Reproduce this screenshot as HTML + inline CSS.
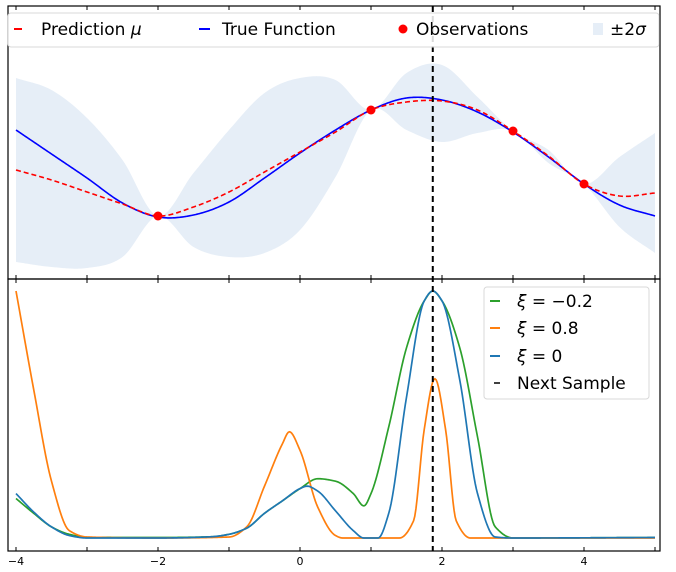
<!DOCTYPE html>
<html><head><meta charset="utf-8">
<style>
html,body{margin:0;padding:0;background:#fff;overflow:hidden;width:676px;height:572px;}
svg{display:block;font-family:"DejaVu Sans","Liberation Sans",sans-serif;}
</style></head>
<body>
<svg id="chart" width="676" height="572" viewBox="0 0 676 572"></svg>
<script>
// ---------- data ----------
const topX = [-4,-3.5,-3,-2.5,-2,-1.5,-1,-0.5,0,0.5,1,1.5,2,2.5,3,3.5,4,4.5,5];
const trueFn = [1.0,0.52,0.04,-0.46,-0.74,-0.7,-0.44,0.04,0.54,1.0,1.4,1.64,1.6,1.36,0.96,0.46,-0.08,-0.5,-0.72];
const predMean = [0.2,0,-0.24,-0.48,-0.72,-0.54,-0.24,0.16,0.56,0.96,1.4,1.56,1.58,1.4,0.98,0.48,-0.08,-0.32,-0.26];
const bandUpper = [2.04,1.8,1.24,0.4,-0.72,0.14,1.0,1.74,2.04,2.0,1.4,2.14,2.3,1.66,0.98,0.6,-0.08,0.46,0.94];
const bandLower = [-1.64,-1.74,-1.76,-1.54,-0.72,-1.34,-1.54,-1.46,-1.0,0.06,1.4,1.0,0.76,0.94,0.98,0.34,-0.08,-0.94,-1.46];
const obsX = [-2,1,3,4];
const obsY = [-0.72,1.4,0.98,-0.08];
const nextSample = 1.87;

const greenX = [-4,-3.75,-3.5,-3.25,-3,-2,-1.25,-1,-0.75,-0.5,-0.25,0,0.25,0.5,0.75,0.9,1,1.25,1.5,1.75,1.87,2,2.25,2.5,2.75,3,5];
const greenY = [0.16,0.10,0.045,0.015,0.003,0.002,0.005,0.015,0.04,0.10,0.15,0.2,0.24,0.23,0.18,0.13,0.18,0.45,0.77,0.96,1.0,0.96,0.77,0.41,0.045,0,0.002];
const blueX = [-4,-3.75,-3.5,-3.25,-3,-2,-1.25,-1,-0.75,-0.5,-0.25,0,0.1,0.25,0.5,0.75,0.9,1.1,1.25,1.5,1.75,1.87,2,2.25,2.5,2.75,3,5];
const blueY = [0.18,0.105,0.045,0.01,0,0,0.005,0.015,0.04,0.1,0.15,0.2,0.21,0.19,0.11,0.03,0,0,0.1,0.57,0.96,1.0,0.96,0.64,0.18,0.004,0,0.002];
const orangeX = [-4,-3.75,-3.5,-3.25,-3,-2,-1,-0.75,-0.5,-0.25,-0.15,0,0.25,0.5,0.6,1.4,1.6,1.75,1.9,2.05,2.2,2.4,5];
const orangeY = [1.0,0.6,0.23,0.03,0.004,0,0.004,0.045,0.21,0.38,0.43,0.355,0.125,0.01,0,0,0.07,0.44,0.645,0.44,0.07,0,0];
const xTicks = [-4,-2,0,2,4];
const xTickLabels = ["\u22124","\u22122","0","2","4"];

// ---------- scales ----------
const L=8,R=660,T1=6,B1=279,T2=279,B2=551;
const xs = x => 16 + (x+4)*71;
const ys1 = v => 180 - v*50;
const ys2 = v => 538 - v*247;
const svg = document.getElementById('chart');
const NS='http://www.w3.org/2000/svg';
function mk(tag, attrs, parent){const e=document.createElementNS(NS,tag);for(const k in attrs)e.setAttribute(k,attrs[k]);(parent||svg).appendChild(e);return e;}
// cubic Hermite interpolation; monotone (Fritsch-Carlson) or Catmull-Rom tangents
function interp(xa, ya, mono){
  const n=xa.length, d=[], m=new Array(n);
  for(let i=0;i<n-1;i++) d.push((ya[i+1]-ya[i])/(xa[i+1]-xa[i]));
  m[0]=d[0]; m[n-1]=d[n-2];
  for(let i=1;i<n-1;i++){
    if(!mono){ m[i]=(ya[i+1]-ya[i-1])/(xa[i+1]-xa[i-1]); continue; }
    if(d[i-1]*d[i]<=0) m[i]=0;
    else { const w1=2*(xa[i+1]-xa[i])+(xa[i]-xa[i-1]), w2=(xa[i+1]-xa[i])+2*(xa[i]-xa[i-1]); m[i]=(w1+w2)/(w1/d[i-1]+w2/d[i]); }
  }
  const out=[];
  for(let i=0;i<n-1;i++){
    const h=xa[i+1]-xa[i], steps=Math.max(4,Math.ceil(h*60));
    for(let s=(i==0?0:1);s<=steps;s++){
      const t=s/steps, t2=t*t, t3=t2*t;
      const y=(2*t3-3*t2+1)*ya[i]+(t3-2*t2+t)*h*m[i]+(-2*t3+3*t2)*ya[i+1]+(t3-t2)*h*m[i+1];
      out.push([xa[i]+t*h, y]);
    }
  }
  return out;
}
function pathFrom(p, sy){return p.map((q,i)=>(i?'L':'M')+xs(q[0]).toFixed(2)+','+sy(q[1]).toFixed(2)).join(' ');}

// ---------- top panel ----------
const topG = mk('g',{});
{
  const u=interp(topX,bandUpper,false), l=interp(topX,bandLower,false).reverse();
  const band=mk('path',{d:pathFrom(u,ys1)+' '+pathFrom(l,ys1).replace('M','L')+' Z',fill:'#e6eef7',stroke:'none'},topG);
  
  
  const tl=mk('path',{d:pathFrom(interp(topX,trueFn,false),ys1),fill:'none',stroke:'#0000ff','stroke-width':1.6},topG);
  
  
  const ml=mk('path',{d:pathFrom(interp(topX,predMean,false),ys1),fill:'none',stroke:'#ff0000','stroke-width':1.6,'stroke-dasharray':'5,3'},topG);
  
  
  obsX.forEach((x,i)=>{
    const c=mk('circle',{cx:xs(x),cy:ys1(obsY[i]),r:4.5,fill:'#ff0000'},topG);
    
    
  });
}
// ---------- bottom panel ----------
const botG = mk('g',{});
[[greenX,greenY,'#2ca02c','ei-xi-neg-0-2'],[orangeX,orangeY,'#ff7f0e','ei-xi-0-8'],[blueX,blueY,'#1f77b4','ei-xi-0']].forEach(s=>{
  const e=mk('path',{d:pathFrom(interp(s[0],s[1],true),ys2),fill:'none',stroke:s[2],'stroke-width':1.7},botG);
  
  
});
// next sample line
const ns=mk('line',{x1:xs(nextSample),x2:xs(nextSample),y1:T1,y2:B2,stroke:'#000','stroke-width':2,'stroke-dasharray':'6,4'});



// ---------- frames & ticks ----------
[[T1,B1,'top-axes-frame'],[T2,B2,'bottom-axes-frame']].forEach(f=>{
  const r=mk('rect',{x:L,y:f[0],width:R-L,height:f[1]-f[0],fill:'none',stroke:'#000','stroke-width':1.2});
  
  
});
for(let x=-4;x<=5;x++){
  [[B1,-1],[T2,1],[B2,-1],[T1,1]].forEach(a=>{
    const t=mk('line',{x1:xs(x),x2:xs(x),y1:a[0],y2:a[0]+a[1]*4,stroke:'#000','stroke-width':1});
    
    
  });
}
xTicks.forEach((x,i)=>{
  const t=mk('text',{x:xs(x),y:565,'font-size':11,'text-anchor':'middle',fill:'#000'});
  t.textContent=xTickLabels[i];
  
  
});

// ---------- top legend ----------
const lg=mk('g',{});


mk('rect',{x:8,y:13,width:651,height:34,rx:3,fill:'rgba(255,255,255,0.85)',stroke:'#d8d8d8'},lg);
mk('line',{x1:14,x2:22,y1:29,y2:29,stroke:'#ff0000','stroke-width':2},lg);
mk('line',{x1:199,x2:210,y1:29,y2:29,stroke:'#0000ff','stroke-width':2},lg);
mk('circle',{cx:403,cy:29,r:4.5,fill:'#ff0000'},lg);
mk('rect',{x:593,y:23,width:10,height:12,fill:'#e6eef7'},lg);
[[41,'Prediction ','μ'],[222,'True Function',''],[416,'Observations',''],[610,'±2','σ']].forEach(e=>{
  const t=mk('text',{x:e[0],y:35,'font-size':17,fill:'#000'},lg);
  t.textContent=e[1];
  if(e[2]){const s=mk('tspan',{'font-style':'italic'},t);s.textContent=e[2];}
  
  
});
// ---------- bottom legend ----------
const lg2=mk('g',{});


mk('rect',{x:484,y:287,width:165,height:112,rx:3,fill:'rgba(255,255,255,0.85)',stroke:'#d8d8d8'},lg2);
[[301,'#2ca02c','−0.2'],[328,'#ff7f0e','0.8'],[356,'#1f77b4','0'],[383,'#000','']].forEach((e,i)=>{
  mk('line',{x1:i==3?494:490,x2:i==3?500:500,y1:e[0],y2:e[0],stroke:e[1],'stroke-width':i==3?1.5:2},lg2);
  const t=mk('text',{x:517,y:e[0]+6,'font-size':17,fill:'#000'},lg2);
  if(i<3){const s=mk('tspan',{'font-style':'italic'},t);s.textContent='ξ';const s2=mk('tspan',{},t);s2.textContent=' = '+e[2];}
  else t.textContent='Next Sample';
  
  
});
</script>
</body></html>
